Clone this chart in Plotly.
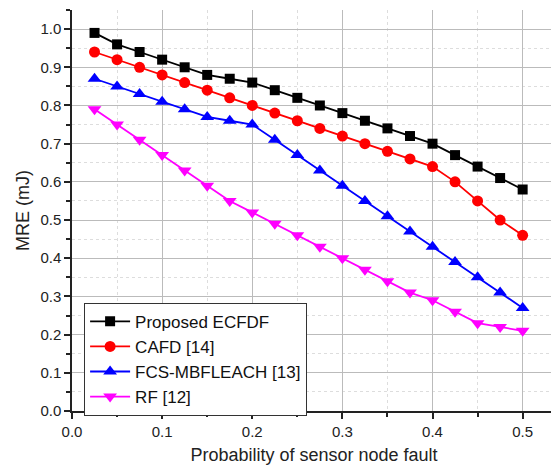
import plotly.graph_objects as go

x_vals = [0.025, 0.05, 0.075, 0.1, 0.125, 0.15, 0.175, 0.2, 0.225, 0.25,
          0.275, 0.3, 0.325, 0.35, 0.375, 0.4, 0.425, 0.45, 0.475, 0.5]
proposed = [0.99, 0.96, 0.94, 0.92, 0.90, 0.88, 0.87, 0.86, 0.84, 0.82,
            0.80, 0.78, 0.76, 0.74, 0.72, 0.70, 0.67, 0.64, 0.61, 0.58]
cafd = [0.94, 0.92, 0.90, 0.88, 0.86, 0.84, 0.82, 0.80, 0.78, 0.76,
        0.74, 0.72, 0.70, 0.68, 0.66, 0.64, 0.60, 0.55, 0.50, 0.46]
fcs = [0.87, 0.85, 0.83, 0.81, 0.79, 0.77, 0.76, 0.75, 0.71, 0.67,
       0.63, 0.59, 0.55, 0.51, 0.47, 0.43, 0.39, 0.35, 0.31, 0.27]
rf = [0.79, 0.75, 0.71, 0.67, 0.63, 0.59, 0.55, 0.52, 0.49, 0.46,
      0.43, 0.40, 0.37, 0.34, 0.31, 0.29, 0.26, 0.23, 0.22, 0.21]

series = [
    ("Proposed ECFDF", proposed, "#000000", "square", 10),
    ("CAFD [14]", cafd, "#ff0000", "circle", 11),
    ("FCS-MBFLEACH [13]", fcs, "#0000ff", "triangle-up", 12),
    ("RF [12]", rf, "#ff00ff", "triangle-down", 12),
]

fig = go.Figure()
for name, ys, color, sym, sz in series:
    fig.add_trace(go.Scatter(
        x=x_vals, y=ys, name=name, mode="lines+markers",
        line=dict(color=color, width=1.8),
        marker=dict(symbol=sym, size=sz, color=color),
    ))

font_family = "Liberation Sans, Arial, sans-serif"
# page body adds an 8px offset; margins compensate so plot area sits at 72..556 x 10..411
fig.update_layout(
    width=559, height=470,
    margin=dict(l=64, r=11, t=2, b=67),
    plot_bgcolor="white", paper_bgcolor="white",
    font=dict(family=font_family, size=15, color="#222222"),
    showlegend=True,
    legend=dict(
        x=0.025, y=0.27, xanchor="left", yanchor="top",
        bordercolor="#333333", borderwidth=1, bgcolor="white",
        font=dict(size=17, color="#111111"),
        tracegroupgap=0, itemwidth=40,
    ),
)
fig.update_xaxes(
    range=[0, 0.537], dtick=0.1, tick0=0, tickformat=".1f",
    showline=True, linecolor="#222222", linewidth=1.5,
    ticks="outside", ticklen=6, tickcolor="#222222", tickwidth=1.5,
    showgrid=True, gridcolor="#bbbbbb", gridwidth=1, zeroline=False,
    minor=dict(dtick=0.05, ticks="outside", ticklen=4, tickcolor="#222222",
               showgrid=True, gridcolor="#dddddd", griddash="dot"),
    title=dict(text="Probability of sensor node fault", font=dict(size=18), standoff=10),
    tickfont=dict(size=15),
    automargin=False,
)
fig.update_yaxes(
    range=[0, 1.05], dtick=0.1, tick0=0, tickformat=".1f",
    showline=True, linecolor="#222222", linewidth=1.5,
    ticks="outside", ticklen=6, tickcolor="#222222", tickwidth=1.5,
    showgrid=True, gridcolor="#bbbbbb", gridwidth=1, zeroline=False,
    minor=dict(dtick=0.05, ticks="outside", ticklen=4, tickcolor="#222222",
               showgrid=True, gridcolor="#dddddd", griddash="dot"),
    title=dict(text="MRE (mJ)", font=dict(size=18), standoff=6),
    tickfont=dict(size=15),
    automargin=False,
)
fig.write_html("out.html")
